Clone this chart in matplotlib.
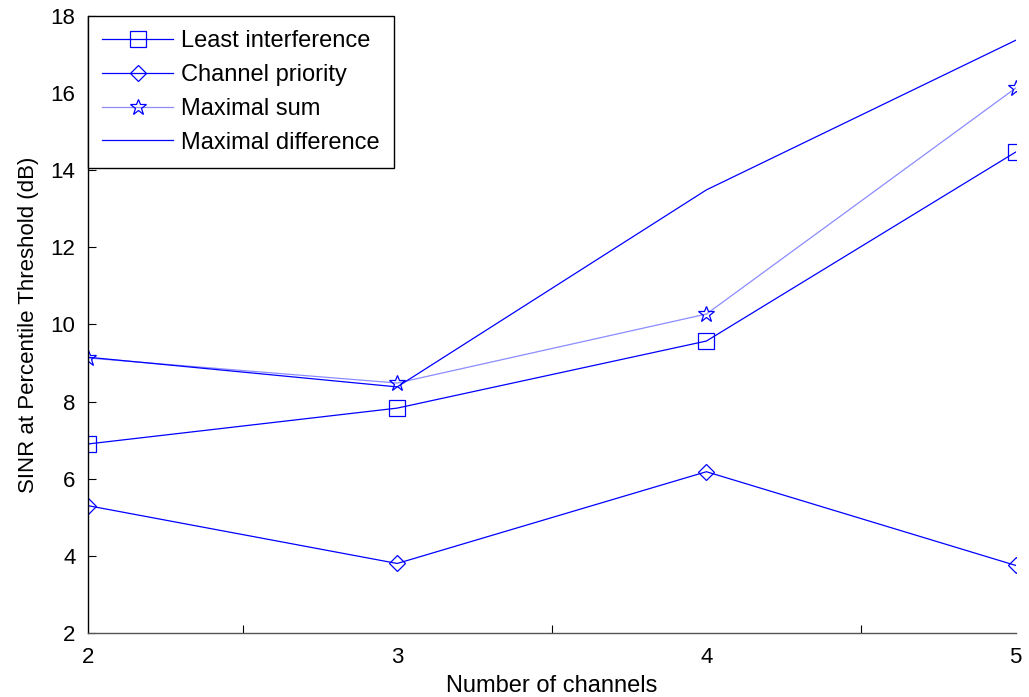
import matplotlib.pyplot as plt
import numpy as np

plt.rcParams['font.family'] = ['Liberation Sans', 'DejaVu Sans']

channels = [2, 3, 4, 5]
least_interference = [6.9, 7.83, 9.57, 14.47]
channel_priority = [5.3, 3.8, 6.18, 3.75]
maximal_sum = [9.13, 8.48, 10.27, 16.13]
maximal_difference = [9.15, 8.38, 13.49, 17.37]

blue = (0, 0, 1)
light = (0.55, 0.55, 1)

fig = plt.figure(figsize=(10.29, 6.97), dpi=100)
ax = fig.add_axes([0.0855, 0.092, 0.9015, 0.885])

ax.plot(channels, least_interference, color=blue, lw=0.9, marker='s',
        ms=11, mfc='none', mec=blue, mew=0.9, label='Least interference')
ax.plot(channels, channel_priority, color=blue, lw=0.9, marker='D',
        ms=8, mfc='none', mec=blue, mew=0.9, label='Channel priority')
ax.plot(channels, maximal_sum, color=light, lw=0.9, marker='*',
        ms=12, mfc='none', mec=blue, mew=0.9, label='Maximal sum')
ax.plot(channels, maximal_difference, color=blue, lw=0.9,
        label='Maximal difference')

ax.set_xlim(2, 5)
ax.set_ylim(2, 18)
ax.set_xticks([2, 3, 4, 5])
ax.set_xticks(np.arange(2, 5.01, 0.5), minor=True)
ax.set_yticks(np.arange(2, 19, 2))
ax.tick_params(which='both', direction='in', labelsize=16, length=6,
               width=0.8)
ax.tick_params(axis='y', pad=9)
ax.tick_params(axis='x', pad=10)
ax.tick_params(axis='x', which='major', length=0)
ax.spines['top'].set_visible(False)
ax.spines['right'].set_visible(False)
ax.spines['left'].set_color('black')
ax.spines['bottom'].set_color('#555555')
ax.spines['left'].set_linewidth(1.0)
ax.spines['bottom'].set_linewidth(1.0)

ax.set_xlabel('Number of channels', fontsize=17, labelpad=5)
ax.set_ylabel('SINR at Percentile Threshold (dB)', fontsize=16, labelpad=8)

leg = ax.legend(loc='upper left', bbox_to_anchor=(0.0, 1.0), fontsize=17,
                fancybox=False, framealpha=1, edgecolor='black',
                borderaxespad=0, handlelength=3.0, labelspacing=0.5,
                borderpad=0.6, handletextpad=0.35)
leg.get_frame().set_linewidth(1.0)

fig.savefig('out.png', dpi=100)
